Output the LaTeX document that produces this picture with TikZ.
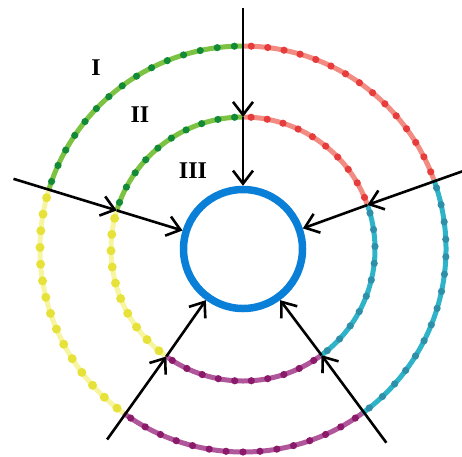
\documentclass[tikz,border=0pt]{standalone}
\usepackage{fontspec}
\setmainfont{Liberation Serif}
\usetikzlibrary{arrows.meta}
\definecolor{gline}{HTML}{7CC243}\definecolor{gdot}{HTML}{138A36}
\definecolor{rline}{HTML}{F28B82}\definecolor{rdot}{HTML}{E63C3C}
\definecolor{tline}{HTML}{2FB3C8}\definecolor{tdot}{HTML}{2E8FA8}
\definecolor{mline}{HTML}{B0569A}\definecolor{mdot}{HTML}{8B1A6B}
\definecolor{yline}{HTML}{F7F5A0}\definecolor{ydot}{HTML}{E6E23A}
\definecolor{core}{HTML}{0A7FD8}
\newcommand\ringseg[7]{%
  \draw[#4, line width=5pt] ([shift={(#2:#1)}]O) arc[start angle=#2, end angle=#3, radius=#1];
  \foreach \k in {1,...,#6}{%
    \pgfmathsetmacro\ang{#2+(\k-0.5)*(#3-#2)/#6}
    \fill[#5] ([shift={(\ang:#1)}]O) circle[radius=#7];
  }%
}
\tikzset{
  arr/.style={draw=black, line width=2.6pt, -{Straight Barb[length=13pt,width=20pt]}},
  lbl/.style={font=\fontsize{24}{24}\selectfont\bfseries, inner sep=0pt},
  corecirc/.style={circle, draw=core, line width=7.5pt, minimum size=119pt, inner sep=0pt}
}
\begin{document}
\begin{tikzpicture}[x=1pt,y=1pt]
\useasboundingbox (0,0) rectangle (462,-456);
\coordinate (O) at (243,-249);
% outer ring (I)
\ringseg{203}{90}{163}{gline}{gdot}{15}{3.6pt}
\ringseg{203}{163}{234}{yline}{ydot}{15}{4.5pt}
\ringseg{203}{234}{306}{mline}{mdot}{15}{3.6pt}
\ringseg{203}{306}{380}{tline}{tdot}{15}{3.6pt}
\ringseg{203}{20}{90}{rline}{rdot}{15}{3.6pt}
% middle ring (II)
\ringseg{132}{90}{163}{gline}{gdot}{10}{3.6pt}
\ringseg{132}{163}{234}{yline}{ydot}{10}{4.5pt}
\ringseg{132}{234}{306}{mline}{mdot}{10}{3.6pt}
\ringseg{132}{306}{379.5}{tline}{tdot}{10}{3.6pt}
\ringseg{132}{19.5}{90}{rline}{rdot}{10}{3.6pt}
% core
\node[corecirc] (c) at (O) {};
% labels
\node[lbl] (l1) at (96,-68) {I};
\node[lbl] (l2) at (140,-115) {II};
\node[lbl] (l3) at (193,-171) {III};
% arrows
\coordinate (s1) at ([shift={(90:241)}]O);
\coordinate (m1) at ([shift={(90:132)}]O);
\coordinate (s2) at ([shift={(163:240)}]O);
\coordinate (m2) at ([shift={(163:132)}]O);
\coordinate (s3) at ([shift={(19.5:240)}]O);
\coordinate (m3) at ([shift={(19.5:132)}]O);
\coordinate (s4) at ([shift={(234.5:234)}]O);
\coordinate (m4) at ([shift={(234.5:132)}]O);
\coordinate (s5) at ([shift={(306.5:241)}]O);
\coordinate (m5) at ([shift={(306.5:132)}]O);
\draw[arr] (s1) -- (m1); \draw[arr] (m1) -- (c.90);
\draw[arr] (s2) -- (m2); \draw[arr] (m2) -- (c.163);
\draw[arr] (s3) -- (m3); \draw[arr] (m3) -- (c.19.5);
\draw[arr] (s4) -- (m4); \draw[arr] (m4) -- (c.234.5);
\draw[arr] (s5) -- (m5); \draw[arr] (m5) -- (c.306.5);
\end{tikzpicture}
\end{document}
